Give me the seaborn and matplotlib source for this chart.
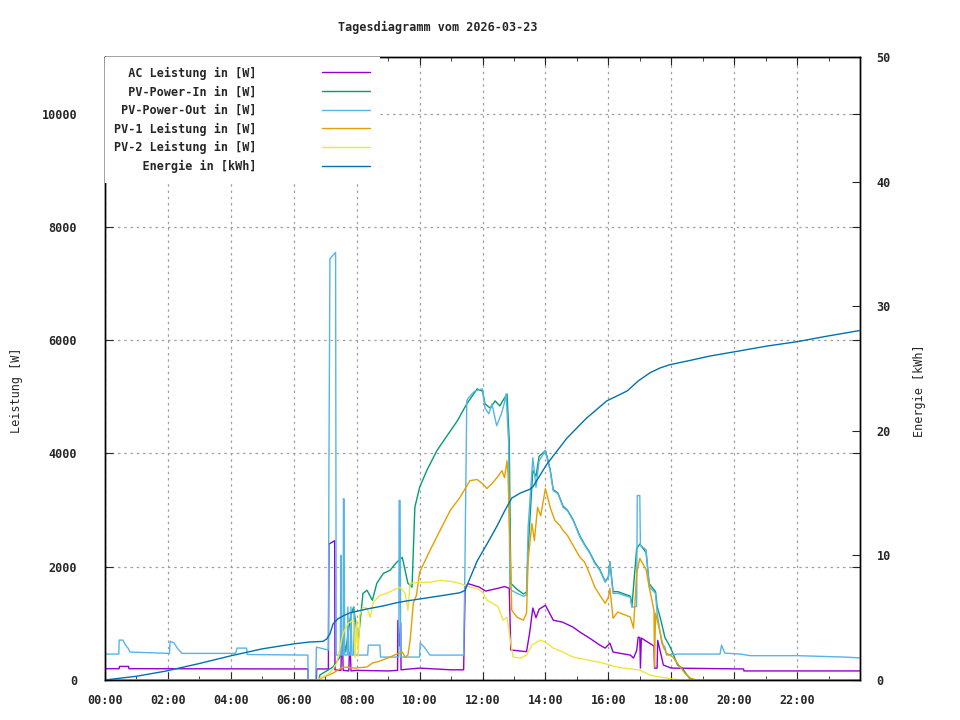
import matplotlib
matplotlib.use("Agg")
import matplotlib.pyplot as plt
import seaborn as sns
from matplotlib.ticker import MultipleLocator, FixedLocator

# --- Daten (Stunden seit Mitternacht) ---
ac_t = [0, 0.45, 0.46, 0.75, 0.76, 6.45, 6.46, 6.72, 6.73, 7.1, 7.12, 7.3, 7.31, 7.5, 7.52, 7.55,
        7.57, 7.75, 7.77, 7.8, 7.82, 8.0, 9.0, 9.3, 9.31, 9.36, 9.4, 9.41, 10.0, 11.0, 11.4, 11.45,
        11.55, 11.9, 12.1, 12.5, 12.7, 12.85, 12.9, 13.4, 13.5, 13.6, 13.7, 13.8, 14.0, 14.25,
        14.55, 14.88, 15.1, 15.4, 15.73, 15.9, 16.05, 16.15, 16.7, 16.8, 16.9, 16.95, 17.0, 17.02,
        17.05, 17.45, 17.47, 17.55, 17.57, 17.75, 18.0, 20.3, 20.31, 24.0]
ac_w = [200, 200, 240, 240, 200, 195, 0, 0, 195, 195, 2400, 2460, 180, 170, 700, 700,
        170, 160, 480, 480, 160, 170, 160, 170, 1050, 600, 1000, 180, 210, 180, 180, 1650,
        1700, 1640, 1570, 1620, 1650, 1620, 530, 500, 840, 1270, 1100, 1250, 1320, 1056,
        1020, 933, 845, 740, 616, 563, 651, 493, 440, 387, 520, 757, 750, 210,
        740, 600, 210, 210, 700, 264, 210, 195, 160, 160]

pv_in_t = [0, 6.8, 6.83, 7.25, 7.47, 7.57, 7.65, 7.8, 7.9, 8.05, 8.2, 8.33, 8.5, 8.64, 8.85, 9.06,
           9.27, 9.45, 9.54, 9.63, 9.76, 9.85, 10.0, 10.23, 10.55, 10.87, 11.2, 11.5, 11.83, 12.0,
           12.08, 12.25, 12.4, 12.55, 12.7, 12.78, 12.85, 12.9, 13.1, 13.3, 13.4, 13.45, 13.6,
           13.7, 13.8, 14.0, 14.05, 14.15, 14.25, 14.4, 14.56, 14.7, 14.88, 15.1, 15.25, 15.4,
           15.57, 15.73, 15.9, 16.0, 16.05, 16.15, 16.3, 16.7, 16.75, 16.9, 17.0, 17.2, 17.3, 17.5,
           17.55, 17.65, 17.8, 17.95, 18.05, 18.2, 18.35, 18.5, 18.6, 18.7, 24.0]
pv_in_w = [0, 0, 88, 230, 405, 757, 500, 1110, 1285, 700, 1530, 1584, 1408, 1707, 1883, 1936,
           2077, 2165, 1936, 1707, 1640, 3050, 3400, 3700, 4050, 4310, 4576, 4875, 5140, 5100,
           4875, 4800, 4928, 4840, 4980, 5050, 4224, 1707, 1600, 1520, 1550, 2300, 3700,
           3600, 3950, 4050, 3950, 3720, 3360, 3300, 3070, 3000, 2830, 2540, 2390, 2260,
           2080, 1950, 1740, 1820, 2090, 1560, 1560, 1480, 1300, 2320, 2400, 2250, 1700, 1560,
           1300, 1100, 750, 600, 475, 264, 211, 88, 18, 0, 0]

pv_out_t = [0, 0.44, 0.45, 0.57, 0.65, 0.73, 0.8, 2.05, 2.07, 2.2, 2.3, 2.45, 4.15, 4.2, 4.5, 4.52,
            6.45, 6.46, 6.7, 6.72, 7.1, 7.12, 7.15, 7.33, 7.35, 7.48, 7.5, 7.52, 7.57, 7.58, 7.6,
            7.62, 7.7, 7.72, 7.75, 7.8, 7.82, 7.85, 7.9, 7.92, 7.95, 8.35, 8.37, 8.74, 8.76, 9.34,
            9.35, 9.38, 9.4, 10.0, 10.02, 10.15, 10.33, 11.4, 11.44, 11.5, 11.55, 11.75, 12.0,
            12.08, 12.2, 12.3, 12.45, 12.6, 12.7, 12.75, 12.83, 12.87, 12.93, 13.1, 13.3, 13.4,
            13.45, 13.6, 13.7, 13.8, 14.0, 14.05, 14.15, 14.25, 14.4, 14.56, 14.7, 14.88, 15.1,
            15.25, 15.4, 15.57, 15.73, 15.9, 16.0, 16.05, 16.15, 16.3, 16.7, 16.75, 16.9, 16.92,
            17.0, 17.02, 17.2, 17.3, 17.5, 17.55, 17.65, 17.7, 17.8, 17.85, 18.2, 19.55, 19.6,
            19.7, 20.2, 20.5, 22.0, 23.5, 24.0]
pv_out_w = [458, 458, 704, 704, 620, 563, 493, 470, 686, 650, 560, 470, 470, 563, 563, 450,
            440, 0, 0, 580, 530, 3925, 7440, 7550, 440, 440, 2200, 440, 440, 3200, 3200,
            440, 440, 1290, 440, 440, 1290, 440, 440, 1290, 440, 440, 616, 616, 405, 405,
            3170, 3170, 405, 405, 650, 580, 440, 440, 1936, 4928, 4980, 5100, 5140,
            4800, 4700, 4875, 4490, 4700, 4900, 5050, 4190, 1640, 1580, 1530, 1480, 1500,
            2690, 3925, 3400, 3870, 4050, 3925, 3700, 3340, 3290, 3050, 2990, 2816, 2520,
            2376, 2250, 2060, 1936, 1725, 1810, 2077, 1530, 1530, 1460, 1285, 1300, 3256,
            3256, 2376, 2300, 1640, 1530, 1180, 830, 650, 580, 440, 458, 458, 616,
            475, 458, 430, 430, 405, 390]

pv1_t = [0, 6.8, 6.83, 7.25, 7.57, 7.95, 8.33, 8.5, 8.74, 9.06, 9.27, 9.45, 9.54, 9.63, 9.7, 9.8,
         9.9, 10.0, 10.33, 10.65, 10.97, 11.28, 11.6, 11.83, 12.0, 12.14, 12.3, 12.46, 12.62, 12.7,
         12.78, 12.81, 12.87, 12.93, 13.1, 13.3, 13.4, 13.45, 13.57, 13.65, 13.75, 13.85, 14.0,
         14.15, 14.3, 14.46, 14.56, 14.7, 14.88, 15.1, 15.25, 15.4, 15.57, 15.73, 15.9, 16.0,
         16.05, 16.15, 16.3, 16.7, 16.8, 16.9, 17.0, 17.2, 17.3, 17.45, 17.47, 17.5, 17.65,
         17.75, 17.85, 18.05, 18.28, 18.43, 18.6, 18.8, 24.0]
pv1_w = [0, 0, 20, 123, 230, 211, 230, 300, 334, 405, 458, 493, 405, 440, 704, 1355,
         1496, 1900, 2288, 2640, 2990, 3220, 3520, 3540, 3467, 3380, 3467, 3573, 3696, 3573,
         3872, 3643, 2464, 1232, 1108, 1056, 1179, 2112, 2763, 2460, 3050, 2900, 3380,
         3050, 2816, 2728, 2640, 2552, 2376, 2165, 2077, 1883, 1640, 1496, 1355, 1460,
         1620, 1090, 1200, 1110, 915, 1883, 2147, 1950, 1640, 1232, 230, 1180, 830,
         580, 475, 405, 230, 123, 35, 0, 0]

pv2_t = [0, 6.73, 7.15, 7.37, 7.57, 7.73, 7.9, 7.95, 8.0, 8.05, 8.1, 8.2, 8.33, 8.43, 8.53, 8.74,
         8.96, 9.15, 9.38, 9.54, 9.63, 9.7, 10.0, 10.33, 10.65, 10.97, 11.28, 11.6, 11.83, 12.0,
         12.14, 12.33, 12.5, 12.65, 12.78, 12.87, 12.97, 13.2, 13.4, 13.57, 13.73, 13.83, 14.0,
         14.25, 14.56, 14.88, 15.2, 15.5, 15.83, 16.15, 16.47, 16.78, 17.0, 17.32, 17.65, 18.05,
         18.28, 24.0]
pv2_w = [0, 0, 123, 300, 827, 1003, 1056, 400, 1050, 420, 1150, 1285, 1267, 1109, 1373, 1496,
         1530, 1584, 1637, 1530, 1232, 1707, 1725, 1725, 1760, 1742, 1707, 1637, 1620, 1550,
         1408, 1355, 1290, 1056, 1109, 757, 405, 387, 440, 616, 669, 704, 669,
         563, 493, 405, 370, 334, 300, 246, 211, 193, 176, 88, 53, 18,
         0, 0]

energie_t = [0, 1.0, 1.9, 2.96, 4.03, 5.0, 6.0, 6.5, 6.93, 7.05, 7.15, 7.25, 7.4, 7.57, 7.8, 8.33,
             8.85, 9.27, 9.6, 10.0, 10.65, 11.28, 11.45, 11.5, 11.83, 12.14, 12.46, 12.7, 12.93,
             13.2, 13.5, 13.6, 14.04, 14.68, 15.3, 15.95, 16.6, 16.95, 17.32, 17.65, 17.95, 18.6,
             19.23, 20.03, 21.04, 22.0, 22.96, 24.0]
energie_kwh = [0, 0.3, 0.7, 1.3, 1.96, 2.5, 2.9, 3.05, 3.1, 3.3, 3.7, 4.5, 4.9, 5.15, 5.4, 5.7,
               5.95, 6.2, 6.35, 6.5, 6.75, 7.0, 7.2, 7.55, 9.55, 10.9, 12.35, 13.55, 14.6,
               15.0, 15.3, 15.5, 17.3, 19.4, 21.0, 22.4, 23.2, 24.0, 24.65, 25.05, 25.3, 25.65,
               26.0, 26.35, 26.8, 27.15, 27.6, 28.05]

x_ticks = list(range(0, 24, 2))
x_labels = [f"{h:02d}:00" for h in x_ticks]
y_ticks = [0, 2000, 4000, 6000, 8000, 10000]
y2_ticks = [0, 10, 20, 30, 40, 50]

serien = [
    ("AC Leistung in [W]", ac_t, ac_w, "#9400d3"),
    ("PV-Power-In in [W]", pv_in_t, pv_in_w, "#009e73"),
    ("PV-Power-Out in [W]", pv_out_t, pv_out_w, "#56b4e9"),
    ("PV-1 Leistung in [W]", pv1_t, pv1_w, "#e69f00"),
    ("PV-2 Leistung in [W]", pv2_t, pv2_w, "#f0e442"),
]

# --- Stil ---
sns.set_style("white")
plt.rcParams['font.family'] = ['DejaVu Sans Mono', 'DejaVu Sans']
plt.rcParams['font.weight'] = 'bold'
fs = 8.5

fig = plt.figure(figsize=(9.6, 7.2), dpi=100)
ax = fig.add_axes([105 / 960, 40 / 720, 755 / 960, 623 / 720])
ax2 = ax.twinx()

for name, t, w, col in serien:
    sns.lineplot(x=t, y=w, ax=ax, color=col, linewidth=1.0, estimator=None, sort=False, label=name)
sns.lineplot(x=energie_t, y=energie_kwh, ax=ax2, color="#0072b2", linewidth=1.0,
             estimator=None, sort=False, label="Energie in [kWh]")

for a in (ax, ax2):
    if a.get_legend() is not None:
        a.get_legend().remove()

ax.set_xlim(0, 24)
ax.set_ylim(0, 11000)
ax2.set_ylim(0, 50)

ax.xaxis.set_major_locator(FixedLocator(x_ticks))
ax.set_xticklabels(x_labels)
ax.xaxis.set_minor_locator(MultipleLocator(1))
ax.set_yticks(y_ticks)
ax.set_yticklabels([str(v) for v in y_ticks])
ax2.set_yticks(y2_ticks)
ax2.set_yticklabels([str(v) for v in y2_ticks])

ax.tick_params(axis='x', which='both', direction='in', top=True, bottom=True, labelsize=fs, pad=10)
ax.tick_params(axis='x', which='major', length=6)
ax.tick_params(axis='x', which='minor', length=3)
ax.tick_params(axis='y', direction='in', left=True, right=True, length=6, labelsize=fs, pad=20)
ax2.tick_params(axis='y', direction='in', length=6, labelsize=fs, pad=12)

ax.grid(True, which='major', color='#a0a0a0', linestyle=(0, (2, 3)), linewidth=0.9)
for a in (ax, ax2):
    for s in a.spines.values():
        s.set_color('black')
        s.set_linewidth(1.0)

ax.set_xlabel("")
ax.set_ylabel("Leistung [W]", fontsize=fs)
ax.yaxis.set_label_coords(-0.108, 0.465)
ax2.set_ylabel("Energie [kWh]", fontsize=fs, rotation=90)
ax2.yaxis.set_label_coords(1.070, 0.465)

fig.text(438 / 960, 1 - 27 / 720, "Tagesdiagramm vom 2026-03-23", ha='center', va='center', fontsize=fs)

# Legende rechtsbuendig wie bei gnuplot
h1, l1 = ax.get_legend_handles_labels()
h2, l2 = ax2.get_legend_handles_labels()
labels = [l.rjust(20) for l in l1 + l2]
leg = ax2.legend(h1 + h2, labels, loc='upper left', bbox_to_anchor=(0, 1), borderaxespad=0,
                 markerfirst=False, handlelength=4.1, handletextpad=5.5, labelspacing=0.48,
                 borderpad=0.8, frameon=True, fancybox=False, framealpha=1,
                 facecolor='white', edgecolor='none', prop={'size': fs, 'weight': 'bold'})

fig.savefig("out.png", dpi=100)
